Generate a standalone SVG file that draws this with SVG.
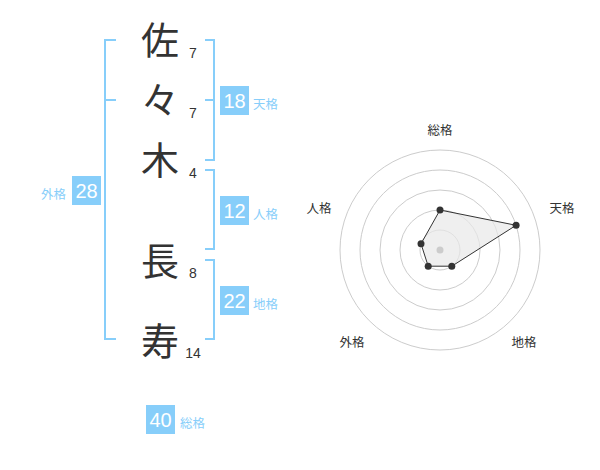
<svg xmlns="http://www.w3.org/2000/svg" width="600" height="470" viewBox="0 0 600 470">
<style>
.kanji{font-family:"Noto Sans CJK JP","Noto Sans CJK SC",sans-serif;font-size:38px;fill:#333;text-anchor:middle}
.num{font-family:"Liberation Sans",Arial,sans-serif;font-size:14px;fill:#333;text-anchor:middle}
.br{fill:none;stroke:#87CEFA;stroke-width:2}
.box{fill:#87CEFA}
.bt{font-family:"Liberation Sans",Arial,sans-serif;font-size:20px;fill:#fff;text-anchor:middle}
.lb{font-family:"Noto Sans CJK JP","Noto Sans CJK SC",sans-serif;font-size:12.5px;fill:#87CEFA}
.ring{fill:none;stroke:#ccc;stroke-width:1}
.ax{font-family:"Noto Sans CJK JP","Noto Sans CJK SC",sans-serif;font-size:12.5px;fill:#333;text-anchor:middle}
</style>
<rect width="600" height="470" fill="#fff"/>
<g id="chars">
<text class="kanji" x="160" y="54">佐</text>
<text class="kanji" x="160" y="114">々</text>
<text class="kanji" x="160" y="174">木</text>
<text class="kanji" x="160" y="275">長</text>
<text class="kanji" x="160" y="355">寿</text>
<text class="num" x="193" y="58">7</text>
<text class="num" x="193" y="118">7</text>
<text class="num" x="193" y="178">4</text>
<text class="num" x="193" y="278">8</text>
<text class="num" x="193" y="358">14</text>
</g>
<g id="connectors">
<path class="br" d="M116,40 H105 V339 H116 M105,100 H116"/>
<path class="br" d="M205,40 H214 V160 H205 M205,100 H214"/>
<path class="br" d="M205,170 H214 V249 H205"/>
<path class="br" d="M205,260 H214 V339 H205"/>
</g>
<g id="tenkaku">
<rect class="box" x="220" y="86" width="29" height="29"/>
<text class="bt" x="234.5" y="107.5">18</text>
<text class="lb" x="253" y="109">天格</text>
</g>
<g id="jinkaku">
<rect class="box" x="220" y="196" width="29" height="29"/>
<text class="bt" x="234.5" y="217.5">12</text>
<text class="lb" x="253" y="219">人格</text>
</g>
<g id="chikaku">
<rect class="box" x="220" y="286" width="29" height="29"/>
<text class="bt" x="234.5" y="307.5">22</text>
<text class="lb" x="253" y="309">地格</text>
</g>
<g id="gaikaku">
<rect class="box" x="72" y="176" width="29" height="29"/>
<text class="bt" x="86.5" y="197.5">28</text>
<text class="lb" x="41" y="199">外格</text>
</g>
<g id="soukaku">
<rect class="box" x="146" y="405" width="29" height="29"/>
<text class="bt" x="160.5" y="426.5">40</text>
<text class="lb" x="180" y="428">総格</text>
</g>
<g id="radar">
<circle class="ring" cx="440" cy="250" r="20"/>
<circle class="ring" cx="440" cy="250" r="40"/>
<circle class="ring" cx="440" cy="250" r="60"/>
<circle class="ring" cx="440" cy="250" r="80"/>
<circle class="ring" cx="440" cy="250" r="100"/>
<polygon points="440,210 516.1,225.3 451.8,266.2 428.2,266.2 421,243.8" fill="#e8e8e8" fill-opacity="0.7" stroke="#333" stroke-width="1"/>
<circle cx="440" cy="250" r="3.5" fill="#ccc"/>
<g fill="#333">
<circle cx="440" cy="210" r="3.5"/>
<circle cx="516.1" cy="225.3" r="3.5"/>
<circle cx="451.8" cy="266.2" r="3.5"/>
<circle cx="428.2" cy="266.2" r="3.5"/>
<circle cx="421" cy="243.8" r="3.5"/>
</g>
<text class="ax" x="440" y="135">総格</text>
<text class="ax" x="562" y="213">天格</text>
<text class="ax" x="319" y="213">人格</text>
<text class="ax" x="352" y="347">外格</text>
<text class="ax" x="524" y="347">地格</text>
</g>
</svg>
